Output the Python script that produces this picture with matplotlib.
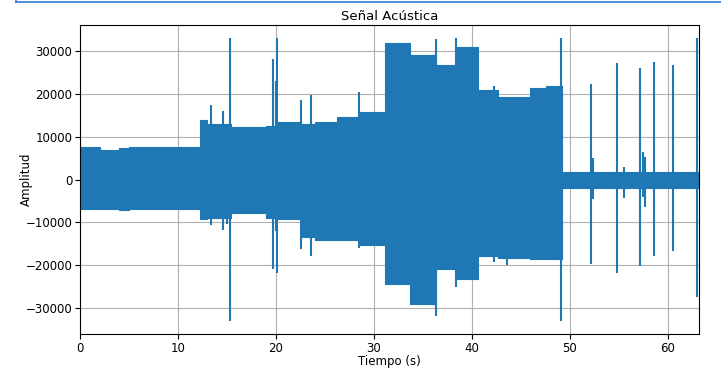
import matplotlib
matplotlib.use('Agg')
import matplotlib.pyplot as plt
from matplotlib.lines import Line2D

# envolvente: tramos (inicio en s), amplitud max y min
seg_t = [0.0, 2.0, 4.0, 5.0, 12.25, 13.0, 15.4, 19.0, 20.2, 22.6, 24.0, 26.2,
         28.6, 31.1, 33.7, 36.35, 38.4, 40.6, 42.7, 45.9, 47.6, 49.2, 63.2]
seg_hi = [7500, 7000, 7300, 7700, 14000, 13000, 12300, 12500, 13400, 13000, 13500, 14600,
          15800, 31800, 29000, 26700, 31000, 20900, 19300, 21300, 21800, 1800, 1800]
seg_lo = [-6900, -6800, -7000, -6900, -9100, -9000, -7700, -9000, -9200, -13500, -14000, -14200,
          -15300, -24400, -29100, -20900, -23300, -17800, -18200, -18600, -18600, -1900, -1900]

# picos aislados
spike_t = [13.4, 14.55, 14.97, 15.3, 19.7, 20.0, 20.07, 22.6, 23.6, 28.5, 36.3, 38.4, 42.3, 43.6,
           49.1, 52.2, 52.4, 54.8, 55.5, 57.2, 57.5, 57.7, 58.6, 60.5, 63.0]
spike_hi = [17500, 16000, 13000, 33000, 28100, 23000, 33000, 18500, 19700, 20500, 32900, 33000, 21900, 19300,
            33000, 22400, 5000, 27100, 3000, 26100, 6400, 5200, 27400, 26700, 33000]
spike_lo = [-10500, -11700, -10300, -32900, -20900, -12000, -21700, -16200, -17800, -16000, -31900, -25000, -19200, -20000,
            -32900, -19600, -4500, -21900, -4400, -20200, -4000, -6500, -17800, -16600, -27400]

color = '#1f77b4'

fig = plt.figure(figsize=(7.21, 3.75), dpi=100)
ax = fig.add_axes([0.111, 0.109, 0.8585, 0.824])

ax.fill_between(seg_t, seg_lo, seg_hi, step='post', color=color, linewidth=0.8)
ax.vlines(spike_t, spike_lo, spike_hi, color=color, linewidth=1.5)

ax.set_xlim(0, 63.2)
ax.set_ylim(-36045, 36044)
ax.set_xticks([0, 10, 20, 30, 40, 50, 60])
ax.set_yticks([-30000, -20000, -10000, 0, 10000, 20000, 30000])
ax.tick_params(labelsize=8.5, length=3.5, pad=2)
ax.grid(True)
ax.set_axisbelow(True)

ax.set_title('Señal Acústica', fontsize=9.5, pad=4)
ax.set_xlabel('Tiempo (s)', fontsize=8.5)
ax.set_ylabel('Amplitud', fontsize=8.5)
ax.xaxis.set_label_coords(0.5, -0.066)
ax.yaxis.set_label_coords(-0.076, 0.5)

# borde azul de la captura
fig.add_artist(Line2D([16 / 721, 1], [1 - 1.5 / 375, 1 - 1.5 / 375], color='#2f7ed8', linewidth=1.2))
fig.add_artist(Line2D([16 / 721, 16 / 721], [1 - 1.5 / 375, 1], color='#2f7ed8', linewidth=1.2))

fig.savefig('out.png', dpi=100)
